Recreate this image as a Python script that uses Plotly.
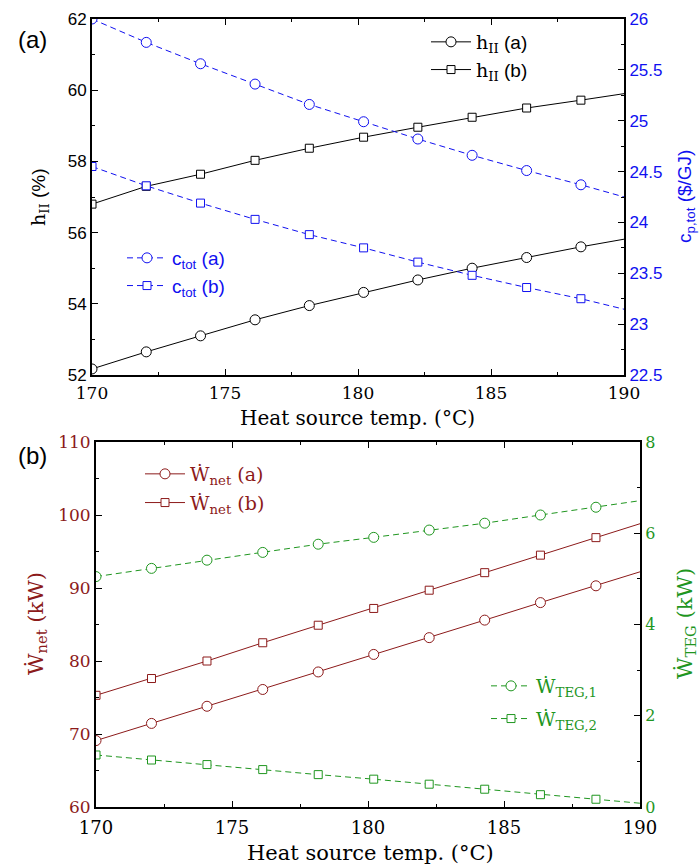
import plotly.graph_objects as go

# Heat source temperature (°C) at each evaluated point
temp = [170.0, 172.04, 174.08, 176.13, 178.17, 180.21, 182.25, 184.29, 186.34, 188.38, 190.42]

# Panel (a): second-law efficiency (%) and total product cost ($/GJ)
eta_a = [52.17, 52.65, 53.10, 53.55, 53.95, 54.32, 54.67, 55.00, 55.30, 55.60, 55.87]
eta_b = [56.80, 57.30, 57.64, 58.03, 58.37, 58.68, 58.96, 59.24, 59.50, 59.72, 59.95]
cost_a = [26.00, 25.77, 25.56, 25.36, 25.16, 24.99, 24.82, 24.66, 24.51, 24.37, 24.22]
cost_b = [24.55, 24.36, 24.19, 24.03, 23.88, 23.75, 23.61, 23.48, 23.36, 23.25, 23.12]

# Panel (b): net power (kW) and TEG power (kW)
wnet_a = [69.1, 71.45, 73.8, 76.1, 78.5, 80.9, 83.2, 85.6, 88.0, 90.3, 92.7]
wnet_b = [75.3, 77.6, 80.0, 82.5, 84.9, 87.2, 89.7, 92.1, 94.5, 96.9, 99.3]
wteg_1 = [5.05, 5.23, 5.41, 5.58, 5.76, 5.91, 6.07, 6.22, 6.40, 6.57, 6.75]
wteg_2 = [1.14, 1.03, 0.93, 0.82, 0.71, 0.61, 0.50, 0.39, 0.27, 0.17, 0.06]

# Tick labels
x_ticks = [170, 175, 180, 185, 190]
cost_ticks = [22.5, 23, 23.5, 24, 24.5, 25, 25.5, 26]
cost_ticktext = ["22.5", "23", "23.5", "24", "24.5", "25", "25.5", "26"]

W, H = 699, 865
BLACK = "#000000"
BLUE = "#1010f0"
RED = "#8c1a1a"
GREEN = "#1f961f"
SERIF = "DejaVu Serif"
SANS = "Liberation Sans"


def px(x):
    return x / W


def py(y):
    return 1 - y / H


fig = go.Figure()


def add(xs, ys, color, symbol, dash, name, xaxis, yaxis, legend, msize):
    fig.add_trace(go.Scatter(
        x=xs, y=ys, mode="lines+markers", name=name, legendgroup=name,
        xaxis=xaxis, yaxis=yaxis, legend=legend,
        line=dict(color=color, width=1, dash=dash),
        marker=dict(symbol=symbol, size=msize, color="white",
                    line=dict(color=color, width=1)),
    ))


eta_lbl = '<span style="font-family:DejaVu Serif">h<sub>II</sub></span> (%s)'
add(temp, eta_a, BLACK, "circle", "solid", eta_lbl % "a", "x", "y", "legend", 10)
add(temp, eta_b, BLACK, "square", "solid", eta_lbl % "b", "x", "y", "legend", 8)
add(temp, cost_a, BLUE, "circle", "6px,4px", "c<sub>tot</sub> (a)", "x", "y2", "legend2", 10)
add(temp, cost_b, BLUE, "square", "6px,4px", "c<sub>tot</sub> (b)", "x", "y2", "legend2", 8)

add(temp, wnet_a, RED, "circle", "solid", "Ẇ<sub>net</sub> (a)", "x2", "y3", "legend3", 10)
add(temp, wnet_b, RED, "square", "solid", "Ẇ<sub>net</sub> (b)", "x2", "y3", "legend3", 8)
add(temp, wteg_1, GREEN, "circle", "6px,4px", "Ẇ<sub>TEG,1</sub>", "x2", "y4", "legend4", 10)
add(temp, wteg_2, GREEN, "square", "6px,4px", "Ẇ<sub>TEG,2</sub>", "x2", "y4", "legend4", 8)

axis_common = dict(showline=True, linewidth=2, linecolor=BLACK, ticks="inside",
                   ticklen=6, tickwidth=1, tickcolor=BLACK, showgrid=False,
                   zeroline=False, automargin=False)

top_dom = [py(375), py(19)]
bot_dom = [py(807), py(442)]

legend_common = dict(xanchor="left", yanchor="top", bgcolor="rgba(0,0,0,0)",
                     itemwidth=40)

fig.update_layout(
    width=W, height=H, margin=dict(l=0, r=0, t=0, b=0),
    paper_bgcolor="white", plot_bgcolor="white",
    xaxis=dict(domain=[px(92), px(624)], range=[170, 190], anchor="y",
               tickvals=x_ticks, mirror="ticks", ticklabelstandoff=2,
               minor=dict(ticks="inside", ticklen=3, dtick=2.5, tick0=170, tickcolor=BLACK),
               tickfont=dict(family=SERIF, size=17, color=BLACK), **axis_common),
    yaxis=dict(domain=top_dom, range=[52, 62], dtick=2, anchor="x",
               minor=dict(ticks="inside", ticklen=3, dtick=1, tickcolor=BLACK),
               tickfont=dict(family=SANS, size=17, color=BLACK), **axis_common),
    yaxis2=dict(domain=top_dom, range=[22.5, 26], overlaying="y", side="right",
                anchor="x", tickvals=cost_ticks, ticktext=cost_ticktext,
                minor=dict(ticks="inside", ticklen=3, dtick=0.25, tick0=22.5, tickcolor=BLACK),
                tickfont=dict(family=SANS, size=17, color=BLUE), **axis_common),
    xaxis2=dict(domain=[px(96), px(640)], range=[170, 190], anchor="y3",
                tickvals=x_ticks, mirror="ticks", ticklabelstandoff=3,
                minor=dict(ticks="inside", ticklen=3, dtick=2.5, tick0=170, tickcolor=BLACK),
                tickfont=dict(family=SERIF, size=18, color=BLACK), **axis_common),
    yaxis3=dict(domain=bot_dom, range=[60, 110], dtick=10, anchor="x2",
                minor=dict(ticks="inside", ticklen=3, dtick=5, tickcolor=BLACK),
                tickfont=dict(family=SERIF, size=17, color=RED), **axis_common),
    yaxis4=dict(domain=bot_dom, range=[0, 8], dtick=2, overlaying="y3", side="right",
                anchor="x2",
                minor=dict(ticks="inside", ticklen=3, dtick=1, tickcolor=BLACK),
                tickfont=dict(family=SERIF, size=16, color=GREEN), **axis_common),
    showlegend=True,
    legend=dict(x=px(426), y=py(23), tracegroupgap=0,
                font=dict(family=SANS, size=19, color=BLACK), **legend_common),
    legend2=dict(x=px(122), y=py(239), tracegroupgap=0,
                 font=dict(family=SANS, size=19, color=BLUE), **legend_common),
    legend3=dict(x=px(140), y=py(455), tracegroupgap=1,
                 font=dict(family=SERIF, size=19, color=RED), **legend_common),
    legend4=dict(x=px(486), y=py(667), tracegroupgap=5,
                 font=dict(family=SERIF, size=19, color=GREEN), **legend_common),
)

annotations = [
    dict(text="(a)", x=px(32), y=py(40), font=dict(family=SANS, size=24, color=BLACK)),
    dict(text="(b)", x=px(32), y=py(456), font=dict(family=SANS, size=24, color=BLACK)),
    dict(text='<span style="font-family:DejaVu Serif">h<sub>II</sub></span> (%)',
         x=px(40), y=py(197), textangle=-90, font=dict(family=SANS, size=19, color=BLACK)),
    dict(text="c<sub>p,tot</sub> ($/GJ)", x=px(686), y=py(197), textangle=-90,
         font=dict(family=SANS, size=19, color=BLUE)),
    dict(text="Heat source temp. (°C)", x=px(357), y=py(418),
         font=dict(family=SERIF, size=20, color=BLACK)),
    dict(text="Ẇ<sub>net</sub> (kW)", x=px(37), y=py(624), textangle=-90,
         font=dict(family=SERIF, size=21, color=RED)),
    dict(text="Ẇ<sub>TEG</sub> (kW)", x=px(686), y=py(624), textangle=-90,
         font=dict(family=SERIF, size=21, color=GREEN)),
    dict(text="Heat source temp. (°C)", x=px(370), y=py(853),
         font=dict(family=SERIF, size=21, color=BLACK)),
]
for a in annotations:
    a.update(xref="paper", yref="paper", showarrow=False, xanchor="center", yanchor="middle")
fig.update_layout(annotations=annotations)

fig.write_html("out.html")
